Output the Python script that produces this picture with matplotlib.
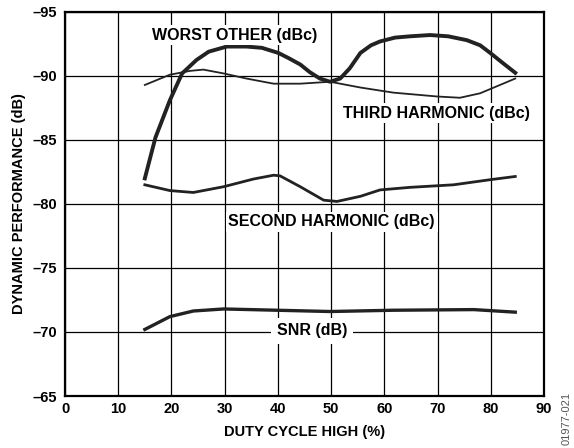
import matplotlib
matplotlib.use("Agg")
import matplotlib.pyplot as plt

plt.rcParams['font.family'] = ['Liberation Sans', 'DejaVu Sans']

worst_x = [15, 17, 19.7, 22, 24.7, 27, 30.4, 34.1, 37, 40.1, 42, 44.2, 46, 47.9, 49.8, 51.7, 53.5, 55.5, 57.5, 59.2, 62, 64.8, 68.6, 72, 75.5, 78, 79.9, 82, 84.6]
worst_y = [-82.0, -85.2, -88.1, -90.2, -91.25, -91.9, -92.3, -92.3, -92.2, -91.8, -91.4, -90.9, -90.3, -89.8, -89.55, -89.8, -90.6, -91.8, -92.4, -92.7, -93.0, -93.1, -93.2, -93.1, -92.8, -92.4, -91.8, -91.1, -90.25]

third_x = [15, 19.7, 23.5, 26, 29.8, 34.1, 39.2, 44.2, 49.8, 55.5, 61.7, 69.9, 74.2, 78, 84.6]
third_y = [-89.3, -90.1, -90.4, -90.5, -90.2, -89.8, -89.4, -89.4, -89.55, -89.1, -88.7, -88.4, -88.3, -88.65, -89.8]

second_x = [15, 19.7, 24.1, 29.8, 35.4, 39.2, 40.4, 44.2, 48.6, 51.1, 55.5, 59.2, 64.8, 73, 79.9, 84.6]
second_y = [-81.5, -81.05, -80.9, -81.35, -81.95, -82.25, -82.2, -81.35, -80.3, -80.2, -80.6, -81.1, -81.3, -81.5, -81.9, -82.15]

snr_x = [15, 19.7, 24.1, 29.8, 39.8, 49.8, 61.7, 76.8, 84.6]
snr_y = [-70.2, -71.2, -71.64, -71.8, -71.7, -71.6, -71.7, -71.75, -71.55]

x_ticks = [0, 10, 20, 30, 40, 50, 60, 70, 80, 90]
y_ticks = [-95, -90, -85, -80, -75, -70, -65]

fig = plt.figure(figsize=(5.74, 4.48), dpi=100)
ax = fig.add_axes([65/574, 1 - 396/448, (544-65)/574, (396-12)/448])

ax.plot(worst_x, worst_y, color='#222222', lw=2.8, zorder=3)
ax.plot(third_x, third_y, color='#222222', lw=1.3, zorder=3)
ax.plot(second_x, second_y, color='#222222', lw=2.0, zorder=3)
ax.plot(snr_x, snr_y, color='#222222', lw=2.4, zorder=3)

ax.set_xlim(0, 90)
ax.set_ylim(-65, -95)
ax.set_xticks(x_ticks)
ax.set_yticks(y_ticks)
ax.set_xticklabels([str(v) for v in x_ticks], fontweight='bold', fontsize=10.5)
ax.set_yticklabels([str(v).replace('-', '\u2013') for v in y_ticks], fontweight='bold', fontsize=10.5)
ax.tick_params(axis='x', length=0, pad=4)
ax.tick_params(axis='y', length=0, pad=6)
ax.grid(True, color='black', lw=0.9)
ax.set_axisbelow(True)
for s in ax.spines.values():
    s.set_linewidth(1.6)

ax.set_xlabel('DUTY CYCLE HIGH (%)', fontweight='bold', fontsize=10.5, labelpad=7)
ax.set_ylabel('DYNAMIC PERFORMANCE (dB)', fontweight='bold', fontsize=10.5, labelpad=4)

bb = dict(facecolor='white', edgecolor='none', pad=2)
ax.text(31.8, -93.2, 'WORST OTHER (dBc)', ha='center', va='center', fontweight='bold', fontsize=11.5, bbox=bb, zorder=4)
ax.text(69.7, -87.1, 'THIRD HARMONIC (dBc)', ha='center', va='center', fontweight='bold', fontsize=11.5, bbox=bb, zorder=4)
ax.text(50.1, -78.6, 'SECOND HARMONIC (dBc)', ha='center', va='center', fontweight='bold', fontsize=11.5, bbox=bb, zorder=4)
ax.text(46.4, -70.1, 'SNR (dB)', ha='center', va='center', fontweight='bold', fontsize=11.5,
        bbox=dict(facecolor='white', edgecolor='none', pad=4), zorder=4)

fig.text(567/574, 1 - 418/448, '01977-021', rotation=90, ha='center', va='center', fontsize=8, color='#555555')

fig.savefig('out.png', dpi=100)
